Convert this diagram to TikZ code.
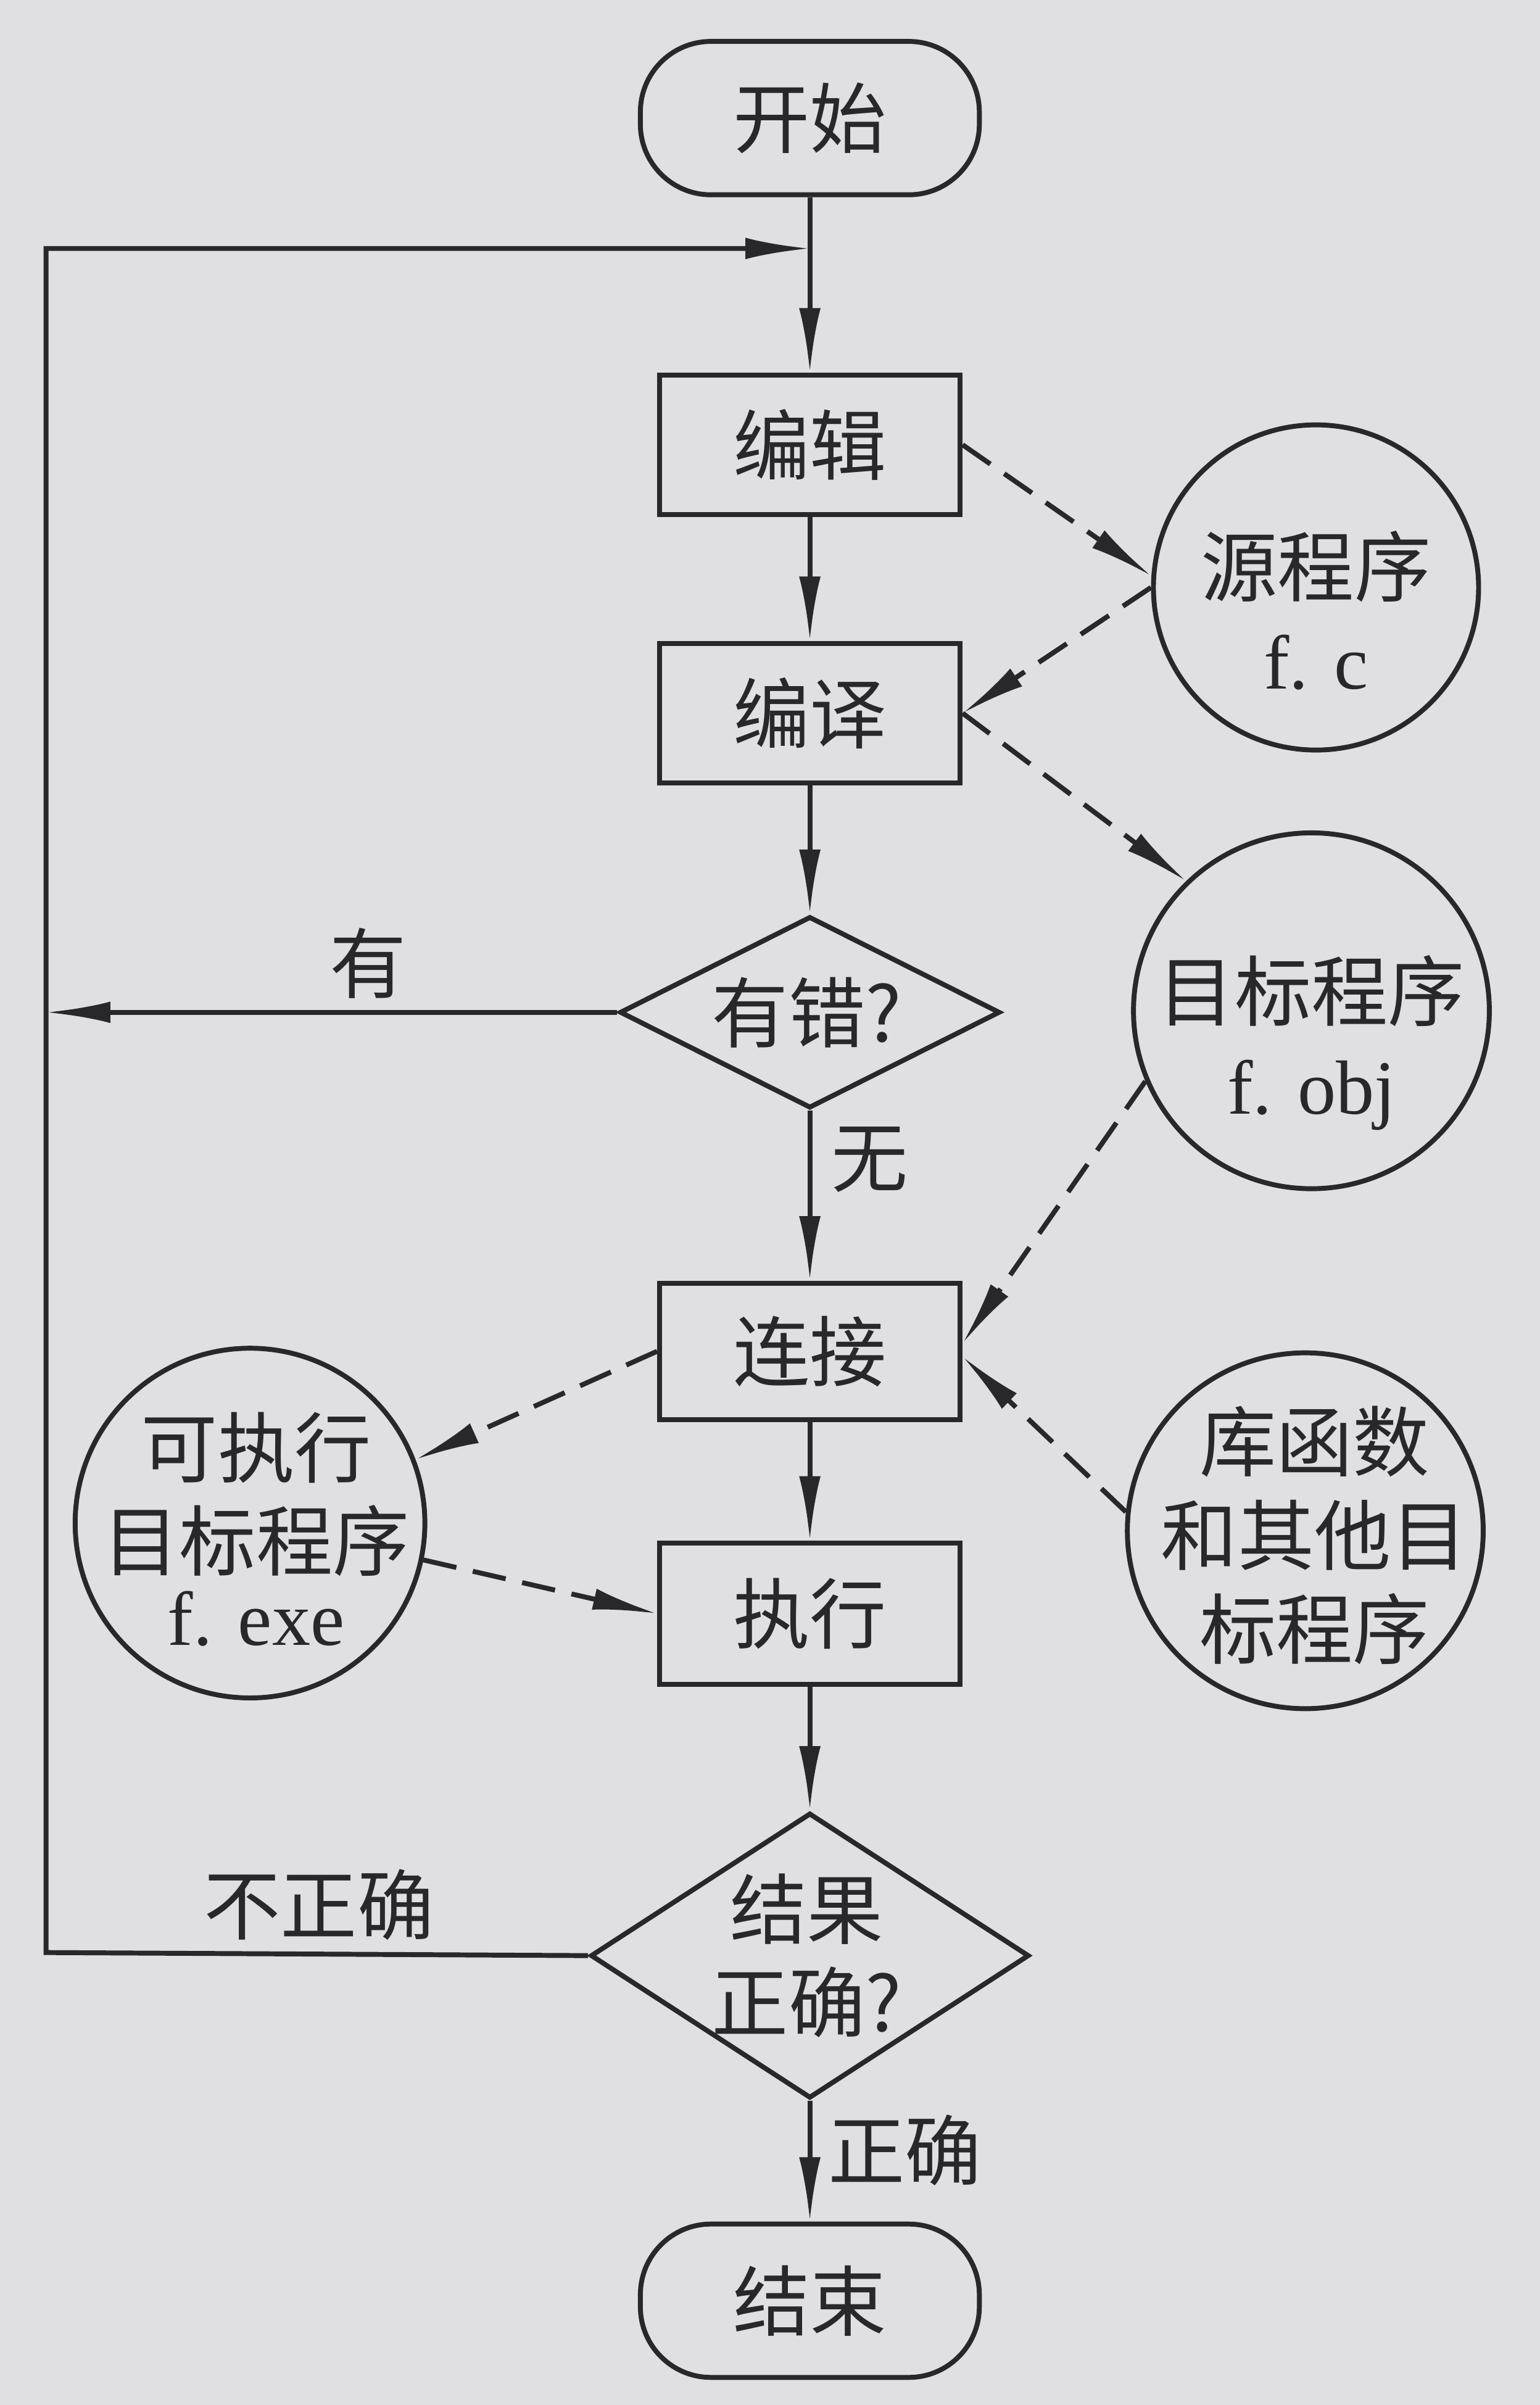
\documentclass[tikz,border=0pt]{standalone}
\usepackage{fontspec}
\newfontfamily\cjk{Noto Sans CJK SC}
\newfontfamily\lat{Liberation Serif}
\usetikzlibrary{shapes.geometric,arrows.meta}
\definecolor{ink}{RGB}{40,40,42}
\definecolor{paper}{RGB}{224,224,226}
\begin{document}
\begin{tikzpicture}[x=1pt,y=-1pt,
  every node/.style={text=ink, font=\fontsize{50}{61}\selectfont\cjk},
  base/.style={draw=ink, line width=3.2pt},
  terminal/.style={base, rectangle, rounded corners=46pt, minimum width=221pt, minimum height=100pt, inner sep=0pt},
  procbox/.style={base, rectangle, minimum width=196pt, minimum height=91pt, inner sep=0pt},
  decision/.style={base, diamond, inner sep=0pt, shape aspect=1},
  store/.style={base, circle, inner sep=0pt},
  txt/.style={align=center, inner sep=0pt},
  flow/.style={draw=ink, line width=3.2pt, -{Latex[length=42pt,width=14pt]}},
  data/.style={flow, dash pattern=on 22pt off 11pt},
]
\fill[paper] (0,0) rectangle (1004,1568);
\useasboundingbox (0,0) rectangle (1004,1568);

% main column
\node[terminal] (start) at (528,77) {开始};
\node[procbox] (edit) at (528,290) {编辑};
\node[procbox] (comp) at (528,465) {编译};
\node[decision, minimum width=248pt, minimum height=125pt] (err) at (528,660) {};
\node[txt] (errT) at (526,660) {有错?};
\node[procbox, minimum height=89pt] (link) at (528,881) {连接};
\node[procbox, minimum height=92pt] (exec) at (528,1052) {执行};
\node[decision, minimum width=286pt, minimum height=186pt] (res) at (528,1275) {};
\node[txt] (resT) at (526,1275) {结果\\正确?};
\node[terminal] (stop) at (528,1500) {结束};

% data stores
\node[store, minimum size=212pt] (src) at (858,383) {};
\node[txt] (srcT) at (858,398) {源程序\\{\lat f. c}};
\node[store, minimum size=232pt] (obj) at (855,659) {};
\node[txt] (objT) at (855,680) {目标程序\\{\lat f. obj}};
\node[store, minimum size=228pt] (exe) at (163,993) {};
\node[txt] (exeT) at (167,997) {可执行\\目标程序\\[-12pt]{\lat f. exe}};
\node[store, minimum size=232pt] (lib) at (851,998) {};
\node[txt] (libT) at (857,1001) {库函数\\和其他目\\标程序};

% branch labels
\node[txt] (lyes) at (240,628) {有};
\node[txt] (lno) at (567,756) {无};
\node[txt] (lwrong) at (208,1242) {不正确};
\node[txt] (lright) at (590,1402) {正确};

% loop coordinates
\coordinate (lt) at (30,162);
\coordinate (lb) at (30,1273);
\coordinate (lm) at (30,660);
\coordinate (jn) at (528,162);

% main flow
\draw[flow] (start.south) -- (edit.north);
\draw[flow] (edit.south) -- (comp.north);
\draw[flow] (comp.south) -- (err.north);
\draw[flow] (err.west) -- (lm);
\draw[flow] (err.south) -- (link.north);
\draw[flow] (link.south) -- (exec.north);
\draw[flow] (exec.south) -- (res.north);
\draw[flow] (res.south) -- (stop.north);
\draw[flow] (res.west) -- (lb) -- (lt) -- (jn);

% data flow
\draw[data] (edit.east) -- (src.176);
\draw[data] (src.west) -- (comp.east);
\draw[data] (comp.east) -- (obj.134);
\draw[data] (obj.203) -- (link.3);
\draw[data] (lib.174) -- (link.-2);
\draw[data] (link.west) -- (exe.21);
\draw[data] (exe.-12) -- (exec.west);
\end{tikzpicture}
\end{document}
